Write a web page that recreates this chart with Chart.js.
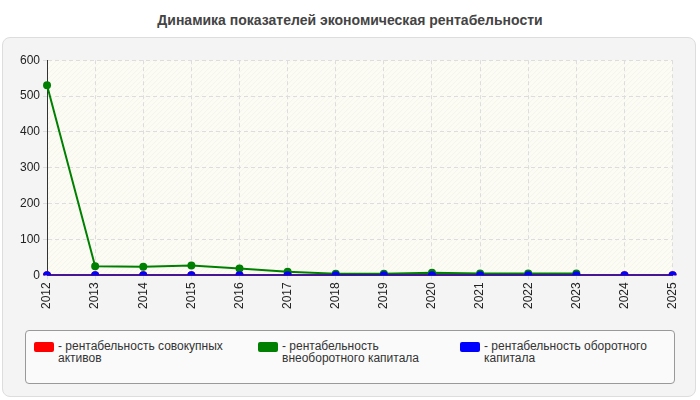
<!DOCTYPE html><html><head><meta charset="utf-8">
<script src="https://cdn.jsdelivr.net/npm/chart.js@4/dist/chart.umd.min.js"></script>
<style>
body{margin:0;background:#fff;font-family:Arial,"Liberation Sans",sans-serif;}
#title{position:absolute;left:0;top:12px;width:700px;text-align:center;font-weight:bold;font-size:14px;color:#444;}
#box{position:absolute;left:2px;top:37px;width:692px;height:358px;border:1px solid #ddd;border-radius:8px;background:#f4f4f4;}
#cw{position:absolute;left:5px;top:50px;width:685px;height:262px;}
#leg{position:absolute;left:25px;top:330px;width:648px;height:52px;border:1px solid #999;border-radius:4px;background:#fafafa;font-size:12px;color:#333;}
.it{position:absolute;top:9px;line-height:12px;}
.sw{position:absolute;left:0;top:2px;width:20px;height:10px;border-radius:2px;}
.tx{position:absolute;left:24px;top:0;width:170px;}
</style></head><body>
<div id="title">Динамика показателей экономическая рентабельности</div>
<div id="box"></div>
<div id="cw"><canvas id="c"></canvas></div>
<div id="leg">
<div class="it" style="left:8px"><div class="sw" style="background:#ff0000"></div><div class="tx">- рентабельность совокупных активов</div></div>
<div class="it" style="left:232px"><div class="sw" style="background:#008000"></div><div class="tx">- рентабельность внеоборотного капитала</div></div>
<div class="it" style="left:434px"><div class="sw" style="background:#0000ff"></div><div class="tx" style="width:190px">- рентабельность оборотного капитала</div></div>
</div>
<script>
const years=["2012","2013","2014","2015","2016","2017","2018","2019","2020","2021","2022","2023","2024","2025"];
const totalAssets=[0,0,0,0,0,0,0,0,0,0,0,0,0,0];
const fixedCapital=[530,25,24,27,19,10,4,4,7,5,5,5,null,null];
const workingCapital=[0,0,0,0,0,0,0,0,0,0,0,0,0,0];
const yTicks=[0,100,200,300,400,500,600];
const bg={id:'bg',beforeDraw(ch){const a=ch.chartArea,c=ch.ctx;c.save();c.fillStyle='#fcfcf4';c.fillRect(a.left,a.top,a.width,a.height);
c.beginPath();c.rect(a.left,a.top,a.width,a.height);c.clip();c.strokeStyle='rgba(0,0,0,0.035)';c.lineWidth=1;
for(let x=a.left-a.height;x<a.right;x+=5){c.beginPath();c.moveTo(x,a.bottom);c.lineTo(x+a.height,a.top);c.stroke();}c.restore();}};
const ds=(l,d,col,o)=>({label:l,data:d,order:o,borderColor:col,backgroundColor:col,borderWidth:2,pointRadius:3,pointHoverRadius:3,tension:0});
new Chart(document.getElementById('c'),{type:'line',plugins:[bg],
data:{labels:years,datasets:[ds('рентабельность совокупных активов',totalAssets,'#ff0000',3),ds('рентабельность внеоборотного капитала',fixedCapital,'#008000',2),ds('рентабельность оборотного капитала',workingCapital,'#0000ff',1)]},
options:{responsive:true,maintainAspectRatio:false,animation:false,layout:{padding:{left:12,right:10,top:10}},
plugins:{legend:{display:false},tooltip:{enabled:false}},
scales:{x:{offset:false,grid:{color:'#ddd',tickLength:4,drawTicks:true},border:{color:'#333',dash:[4,3]},ticks:{color:'#222',font:{size:12},maxRotation:90,minRotation:90}},
y:{min:0,max:600,afterBuildTicks(s){s.ticks=yTicks.map(v=>({value:v}));},grid:{color:'#ddd',tickLength:4},border:{color:'#333',dash:[4,3]},ticks:{color:'#222',font:{size:12}}}}}});
</script></body></html>
